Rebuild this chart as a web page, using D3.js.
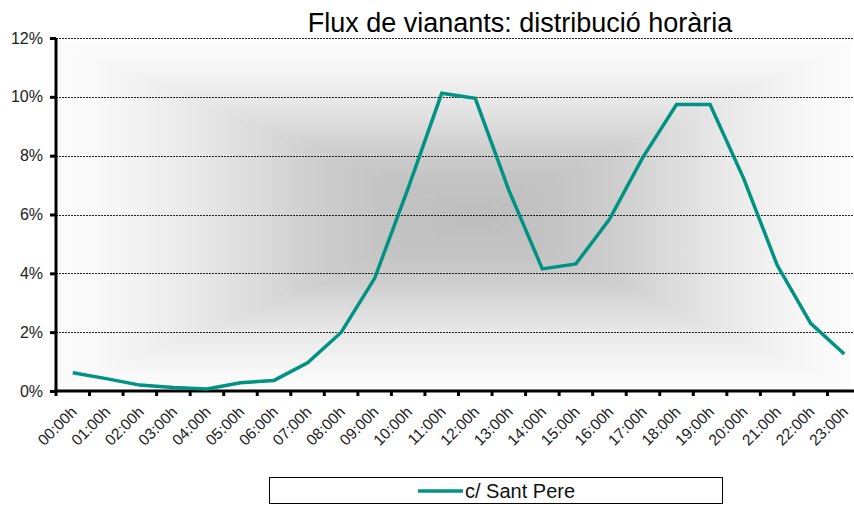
<!DOCTYPE html>
<html>
<head>
<meta charset="utf-8">
<script src="https://cdn.jsdelivr.net/npm/d3@7/dist/d3.min.js"></script>
<style>
  html, body { margin: 0; padding: 0; background: #fff; }
  svg { display: block; font-family: "Liberation Sans", Arial, sans-serif; }
</style>
</head>
<body>
<svg id="chart" width="854" height="505"></svg>
<script>
const title = "Flux de vianants: distribució horària";
const hours = ["00:00h","01:00h","02:00h","03:00h","04:00h","05:00h","06:00h","07:00h","08:00h","09:00h","10:00h","11:00h","12:00h","13:00h","14:00h","15:00h","16:00h","17:00h","18:00h","19:00h","20:00h","21:00h","22:00h","23:00h"];
const seriesName = "c/ Sant Pere";
const santPere = [0.62,0.42,0.20,0.12,0.07,0.28,0.36,0.96,1.99,3.83,6.90,10.12,9.95,6.83,4.15,4.32,5.84,7.95,9.74,9.74,7.23,4.28,2.30,1.26];
const yTicks = [0,2,4,6,8,10,12];

const svg = d3.select("#chart");
const pLeft = 56, pTop = 38, pBottom = 391, pRight = 861;

const x = d3.scaleBand().domain(hours).range([pLeft, pRight]);
const y = d3.scaleLinear().domain([0, 12]).range([pBottom, pTop]);

// background: rectangular "path" gradient (light edges -> grey centre)
const defs = svg.append("defs");
const bgL = pLeft + 2, bgR = 850, bgT = 42, bgB = pBottom;
const cx = 474, cy = 216;
const stops = [[0,"#fcfcfc"],[0.12,"#f7f7f7"],[0.3,"#ebebeb"],[0.45,"#dedede"],[0.62,"#cecece"],[0.8,"#c3c3c3"],[1,"#bdbdbd"]];
function grad(id, x1, y1, x2, y2) {
  const g = defs.append("linearGradient").attr("id", id)
    .attr("gradientUnits", "userSpaceOnUse")
    .attr("x1", x1).attr("y1", y1).attr("x2", x2).attr("y2", y2);
  stops.forEach(s => g.append("stop").attr("offset", s[0]).attr("stop-color", s[1]));
}
grad("gTop", 0, bgT, 0, cy);
grad("gBot", 0, bgB, 0, cy);
grad("gLeft", bgL, 0, cx, 0);
grad("gRight", bgR, 0, cx, 0);
const bg = svg.append("g");
bg.append("polygon").attr("points", `${bgL},${bgT} ${bgR},${bgT} ${cx},${cy}`).attr("fill", "url(#gTop)").attr("stroke", "url(#gTop)").attr("stroke-width", 0.5);
bg.append("polygon").attr("points", `${bgL},${bgB} ${bgR},${bgB} ${cx},${cy}`).attr("fill", "url(#gBot)").attr("stroke", "url(#gBot)").attr("stroke-width", 0.5);
bg.append("polygon").attr("points", `${bgL},${bgT} ${bgL},${bgB} ${cx},${cy}`).attr("fill", "url(#gLeft)").attr("stroke", "url(#gLeft)").attr("stroke-width", 0.5);
bg.append("polygon").attr("points", `${bgR},${bgT} ${bgR},${bgB} ${cx},${cy}`).attr("fill", "url(#gRight)").attr("stroke", "url(#gRight)").attr("stroke-width", 0.5);

// gridlines
svg.append("g").selectAll("line").data(yTicks.filter(d => d > 0)).join("line")
  .attr("x1", pLeft).attr("x2", 854)
  .attr("y1", d => Math.round(y(d)) + 0.5).attr("y2", d => Math.round(y(d)) + 0.5)
  .attr("stroke", "#000").attr("stroke-width", 1).attr("stroke-dasharray", "2,1").attr("opacity", 0.85);

// title
svg.append("text").attr("x", 520).attr("y", 32).attr("text-anchor", "middle")
  .attr("font-size", 27).attr("fill", "#000").text(title);

// y axis
const yAxis = d3.axisLeft(y).tickValues(yTicks).tickFormat(d => d + "%").tickSize(6).tickPadding(7);
const gy = svg.append("g").attr("transform", `translate(${pLeft},0)`).call(yAxis);
gy.select(".domain").attr("stroke", "#000").attr("stroke-width", 3).attr("d", `M0,${pTop}V${pBottom + 1.5}`);
gy.selectAll(".tick line").attr("stroke", "#000").attr("stroke-width", 3);
gy.selectAll(".tick text").attr("font-size", 16).attr("fill", "#222")
  .attr("font-family", "Liberation Sans, Arial, sans-serif");

// x axis (ticks between categories)
const xAxis = d3.axisBottom(x).tickSize(0).tickPadding(0);
const gx = svg.append("g").attr("transform", `translate(0,${pBottom})`).call(xAxis);
gx.select(".domain").attr("stroke", "#000").attr("stroke-width", 3).attr("d", `M${pLeft - 1.5},0H${pRight}`);
gx.selectAll(".tick text")
  .attr("font-size", 15.5).attr("fill", "#222").attr("font-family", "Liberation Sans, Arial, sans-serif")
  .attr("text-anchor", "end").attr("dy", 0)
  .attr("transform", `translate(5,22) rotate(-45)`)
  .attr("x", 0).attr("y", 0);
svg.append("g").selectAll("line").data(hours).join("line")
  .attr("x1", d => x(d)).attr("x2", d => x(d))
  .attr("y1", pBottom).attr("y2", pBottom + 5)
  .attr("stroke", "#000").attr("stroke-width", 3);

// line
const line = d3.line().x((d, i) => x(hours[i]) + x.bandwidth() / 2).y(d => y(d));
svg.append("path").datum(santPere).attr("d", line)
  .attr("fill", "none").attr("stroke", "#009383").attr("stroke-width", 3.5)
  .attr("stroke-linejoin", "miter");

// legend
const lg = svg.append("g");
lg.append("rect").attr("x", 269.5).attr("y", 477.5).attr("width", 453).attr("height", 26)
  .attr("fill", "#fff").attr("stroke", "#000").attr("stroke-width", 1);
lg.append("line").attr("x1", 418).attr("x2", 463).attr("y1", 491).attr("y2", 491)
  .attr("stroke", "#009383").attr("stroke-width", 3.5);
lg.append("text").attr("x", 465).attr("y", 498).attr("font-size", 20).attr("fill", "#111").text(seriesName);
</script>
</body>
</html>
